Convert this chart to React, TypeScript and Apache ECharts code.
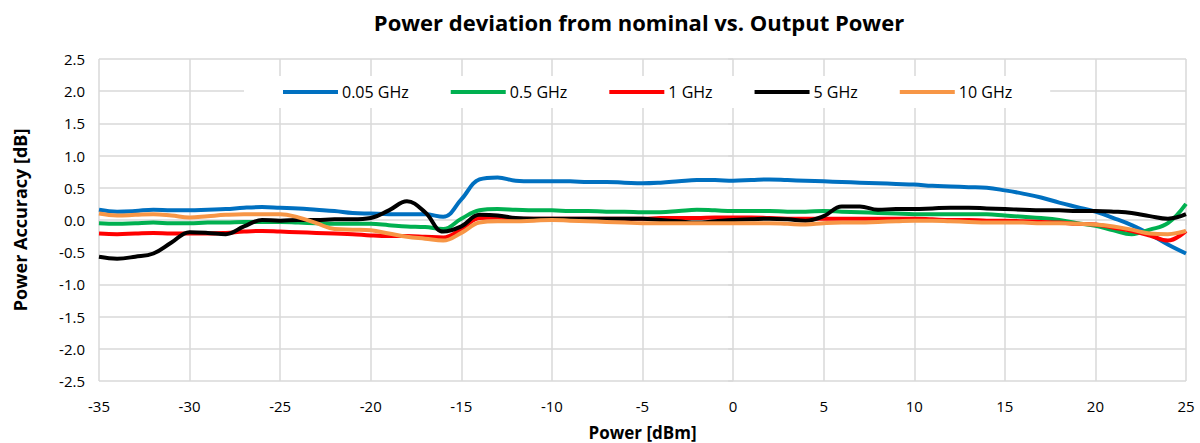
import React, { useEffect, useRef } from "react";
import * as echarts from "echarts";

const power = [
  -35, -34, -33, -32, -31, -30, -29, -28, -27, -26, -25, -24, -23, -22, -21, -20,
  -19, -18, -17, -16, -15, -14, -13, -12, -11, -10, -9, -8, -7, -6, -5, -4, -3, -2, -1,
  0, 1, 2, 3, 4, 5, 6, 7, 8, 9, 10, 11, 12, 13, 14, 15, 16, 17, 18, 19, 20, 21, 22, 23, 24, 25,
];

const ghz005 = [
  0.16, 0.13, 0.14, 0.16, 0.15, 0.15, 0.16, 0.17, 0.19, 0.2, 0.19, 0.18, 0.16, 0.14, 0.11, 0.1,
  0.09, 0.09, 0.09, 0.05, 0.32, 0.63, 0.66, 0.61, 0.6, 0.6, 0.6, 0.59, 0.59, 0.58, 0.57, 0.58, 0.6, 0.62, 0.62,
  0.61, 0.62, 0.63, 0.62, 0.61, 0.6, 0.59, 0.58, 0.57, 0.56, 0.55, 0.53, 0.52, 0.51, 0.5, 0.46, 0.41, 0.35, 0.27, 0.2, 0.13, 0.03, -0.08, -0.22, -0.38, -0.52,
];

const ghz05 = [
  -0.05, -0.06, -0.05, -0.04, -0.05, -0.05, -0.04, -0.04, -0.03, -0.03, -0.03, -0.04, -0.05, -0.06, -0.06, -0.06,
  -0.08, -0.1, -0.11, -0.14, 0.02, 0.15, 0.17, 0.16, 0.15, 0.15, 0.14, 0.14, 0.13, 0.13, 0.12, 0.12, 0.14, 0.16, 0.15,
  0.14, 0.14, 0.14, 0.13, 0.13, 0.14, 0.13, 0.12, 0.11, 0.1, 0.09, 0.09, 0.09, 0.09, 0.09, 0.07, 0.05, 0.03, 0.0, -0.05, -0.09, -0.16, -0.22, -0.15, -0.05, 0.25,
];

const ghz1 = [
  -0.21, -0.22, -0.21, -0.2, -0.21, -0.21, -0.21, -0.2, -0.18, -0.17, -0.18, -0.19, -0.2, -0.21, -0.22, -0.24,
  -0.25, -0.25, -0.26, -0.27, -0.14, 0.03, 0.04, 0.02, 0.02, 0.02, 0.02, 0.02, 0.02, 0.02, 0.02, 0.03, 0.03, 0.03, 0.04,
  0.04, 0.04, 0.03, 0.02, 0.02, 0.02, 0.02, 0.02, 0.02, 0.02, 0.02, 0.01, 0.0, 0.0, -0.01, -0.01, -0.02, -0.03, -0.04, -0.06, -0.07, -0.12, -0.17, -0.24, -0.32, -0.17,
];

const ghz5 = [
  -0.57, -0.6, -0.57, -0.52, -0.35, -0.19, -0.2, -0.22, -0.1, 0.0, -0.01, 0.0, 0.0, 0.01, 0.01, 0.03,
  0.15, 0.29, 0.12, -0.18, -0.1, 0.08, 0.07, 0.03, 0.02, 0.02, 0.02, 0.02, 0.02, 0.02, 0.02, 0.0, -0.02, -0.04, -0.02,
  0.0, 0.01, 0.02, 0.01, -0.01, 0.06, 0.21, 0.21, 0.16, 0.17, 0.17, 0.18, 0.19, 0.19, 0.18, 0.17, 0.16, 0.15, 0.15, 0.14, 0.14, 0.13, 0.11, 0.06, 0.02, 0.09,
];

const ghz10 = [
  0.1, 0.07, 0.08, 0.09, 0.07, 0.04, 0.06, 0.08, 0.09, 0.09, 0.09, 0.04, -0.05, -0.14, -0.15, -0.16,
  -0.21, -0.26, -0.29, -0.32, -0.2, -0.04, -0.02, -0.02, -0.01, 0.0, -0.01, -0.02, -0.03, -0.04, -0.05, -0.05, -0.05, -0.05, -0.05,
  -0.05, -0.05, -0.05, -0.06, -0.07, -0.05, -0.04, -0.04, -0.03, -0.02, -0.01, -0.01, -0.02, -0.03, -0.04, -0.04, -0.04, -0.05, -0.05, -0.06, -0.07, -0.1, -0.15, -0.21, -0.22, -0.17,
];

const seriesNames = ["0.05 GHz", "0.5 GHz", "1 GHz", "5 GHz", "10 GHz"];
const seriesColors = ["#0070C0", "#00B050", "#FF0000", "#000000", "#F79646"];
const seriesValues = [ghz005, ghz05, ghz1, ghz5, ghz10];

const FONT = "'Open Sans', 'Noto Sans', sans-serif";

export default function App() {
  const ref = useRef<HTMLDivElement>(null);
  useEffect(() => {
    if (!ref.current) return;
    const chart = echarts.init(ref.current, null, { renderer: "svg" });
    const gridColor = "#d9d9d9";
    chart.setOption({
      animation: false,
      backgroundColor: "#ffffff",
      title: {
        text: "Power deviation from nominal vs. Output Power",
        left: 634,
        textAlign: "center",
        top: 6,
        textStyle: { fontFamily: FONT, fontSize: 22, fontWeight: "bold", color: "#000" },
      },
      legend: {
        left: 244,
        top: 76,
        backgroundColor: "#ffffff",
        padding: [8, 38, 8, 39],
        itemWidth: 55,
        itemHeight: 4,
        itemGap: 42,
        icon: "rect",
        textStyle: { fontFamily: FONT, fontSize: 16, color: "#000", padding: [0, 0, 0, -1] },
        data: seriesNames,
      },
      grid: {
        left: 99,
        right: 14,
        top: 59,
        bottom: 62,
        containLabel: false,
        outerBoundsMode: "none",
      },
      xAxis: {
        type: "value",
        min: -35,
        max: 25,
        interval: 5,
        name: "Power [dBm]",
        nameLocation: "middle",
        nameGap: 43,
        nameTextStyle: { fontFamily: FONT, fontSize: 17, fontWeight: "bold", color: "#000" },
        axisLine: { show: false },
        axisTick: { show: true, length: 5, lineStyle: { color: gridColor, width: 1.5 } },
        axisLabel: { fontFamily: FONT, fontSize: 15, color: "#000", margin: 17 },
        splitLine: { show: true, lineStyle: { color: gridColor, width: 1.5 } },
      },
      yAxis: {
        type: "value",
        min: -2.5,
        max: 2.5,
        interval: 0.5,
        name: "Power Accuracy [dB]",
        nameLocation: "middle",
        nameRotate: 90,
        nameGap: 70,
        nameTextStyle: { fontFamily: FONT, fontSize: 18, fontWeight: "bold", color: "#000" },
        axisLine: { show: false },
        axisTick: { show: true, length: 5, lineStyle: { color: gridColor, width: 1.5 } },
        axisLabel: {
          fontFamily: FONT,
          fontSize: 15,
          color: "#000",
          margin: 14,
          formatter: (v: number) => v.toFixed(1),
        },
        splitLine: { show: true, lineStyle: { color: gridColor, width: 1.5 } },
      },
      series: seriesNames.map((name, i) => ({
        name,
        type: "line",
        smooth: 0.4,
        showSymbol: false,
        symbol: "none",
        z: 2 + i,
        itemStyle: { color: seriesColors[i] },
        lineStyle: { color: seriesColors[i], width: 4 },
        data: power.map((p, j) => [p, seriesValues[i][j]]),
      })),
    });
    return () => chart.dispose();
  }, []);
  return (
    <div
      ref={ref}
      style={{ position: "absolute", left: 0, top: 0, width: 1200, height: 443 }}
    />
  );
}
